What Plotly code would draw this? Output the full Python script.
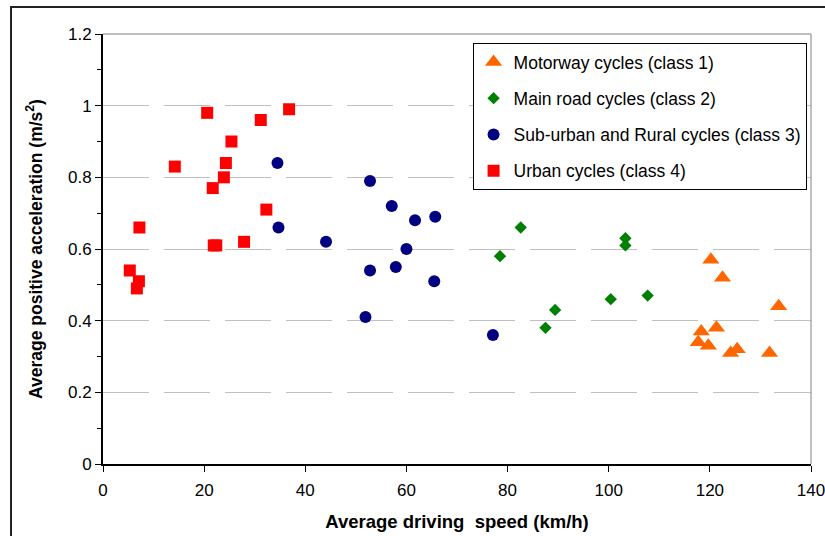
import plotly.graph_objects as go

# ---- data ----
motorway_x = [120.2, 122.5, 133.6, 121.3, 118.3, 117.7, 119.7, 124.1, 125.4, 131.8]
motorway_y = [0.57, 0.52, 0.44, 0.38, 0.37, 0.34, 0.33, 0.31, 0.32, 0.31]

mainroad_x = [82.6, 78.5, 103.3, 103.3, 89.4, 87.5, 100.4, 107.7]
mainroad_y = [0.66, 0.58, 0.63, 0.61, 0.43, 0.38, 0.46, 0.47]

suburban_x = [34.5, 34.7, 44.1, 52.8, 57.1, 61.7, 60.0, 65.7, 52.8, 57.9, 51.9, 65.5, 77.1]
suburban_y = [0.84, 0.66, 0.62, 0.79, 0.72, 0.68, 0.60, 0.69, 0.54, 0.55, 0.41, 0.51, 0.36]

urban_x = [20.6, 36.8, 31.2, 25.4, 24.3, 14.2, 23.9, 21.7, 32.3, 7.2, 21.9, 22.4, 27.9, 5.3, 7.1, 6.7]
urban_y = [0.98, 0.99, 0.96, 0.90, 0.84, 0.83, 0.80, 0.77, 0.71, 0.66, 0.61, 0.61, 0.62, 0.54, 0.51, 0.49]

series_names = [
    "Motorway cycles (class 1)",
    "Main road cycles (class 2)",
    "Sub-urban and Rural cycles (class 3)",
    "Urban cycles (class 4)",
]

FONT = "Liberation Sans, Arial, sans-serif"

fig = go.Figure()
fig.add_trace(go.Scatter(x=motorway_x, y=motorway_y, mode="markers", name=series_names[0],
                         legendgroup="g1",
                         marker=dict(symbol="triangle-up", size=15, color="#FF6600")))
fig.add_trace(go.Scatter(x=mainroad_x, y=mainroad_y, mode="markers", name=series_names[1],
                         legendgroup="g2",
                         marker=dict(symbol="diamond", size=9.5, color="#008000")))
fig.add_trace(go.Scatter(x=suburban_x, y=suburban_y, mode="markers", name=series_names[2],
                         legendgroup="g3",
                         marker=dict(symbol="circle", size=12, color="#000080")))
fig.add_trace(go.Scatter(x=urban_x, y=urban_y, mode="markers", name=series_names[3],
                         legendgroup="g4",
                         marker=dict(symbol="square", size=12, color="#FF0000")))

fig.update_layout(
    width=825, height=536,
    margin=dict(l=103, r=14, t=34, b=72, pad=0, autoexpand=False),
    paper_bgcolor="white", plot_bgcolor="white",
    font=dict(family=FONT, size=17, color="black"),
    showlegend=True,
    legend=dict(
        x=0.522, y=0.979, xanchor="left", yanchor="top",
        bgcolor="white", bordercolor="black", borderwidth=1,
        font=dict(family=FONT, size=17.5, color="black"),
        tracegroupgap=10.5, traceorder="grouped",
        itemwidth=30,
    ),
    xaxis=dict(
        range=[0, 140], tickvals=[0, 20, 40, 60, 80, 100, 120, 140],
        showgrid=False, zeroline=False, automargin=False,
        showline=True, linecolor="#000000", linewidth=2,
        ticks="outside", ticklen=6, tickwidth=1, tickcolor="black",
        tickfont=dict(size=17), ticklabelstandoff=4, ticklabeloverflow="allow",
        title=dict(text="<b>Average driving\u00a0 speed (km/h)</b>",
                   font=dict(size=18.5), standoff=16),
    ),
    yaxis=dict(
        range=[0, 1.2], tickvals=[0, 0.2, 0.4, 0.6, 0.8, 1.0, 1.2],
        ticktext=["0", "0.2", "0.4", "0.6", "0.8", "1", "1.2"],
        showgrid=True, gridcolor="#C0C0C0", gridwidth=1.2, griddash="46px,15px",
        zeroline=False, automargin=False,
        showline=True, linecolor="#000000", linewidth=2,
        ticks="outside", ticklen=6, tickwidth=1, tickcolor="black",
        minor=dict(dtick=0.1, ticks="outside", ticklen=4, tickcolor="black", showgrid=False),
        tickfont=dict(size=17), ticklabeloverflow="allow",
        title=dict(text="<b>Average positive acceleration (m/s<sup>2</sup>)</b>",
                   font=dict(size=17.5), standoff=21),
    ),
    shapes=[
        # plot-area top and right borders (grey)
        dict(type="line", xref="paper", yref="paper", x0=0, x1=1, y0=1, y1=1,
             line=dict(color="#808080", width=1)),
        dict(type="line", xref="paper", yref="paper", x0=1, x1=1, y0=0, y1=1,
             line=dict(color="#808080", width=1)),
        # outer chart frame
        dict(type="rect", xref="paper", yref="paper",
             x0=-0.1299, x1=1.04, y0=-0.2, y1=1.0628,
             line=dict(color="#202020", width=2), fillcolor="rgba(0,0,0,0)", layer="below"),
    ],
)

fig.write_html("out.html")
